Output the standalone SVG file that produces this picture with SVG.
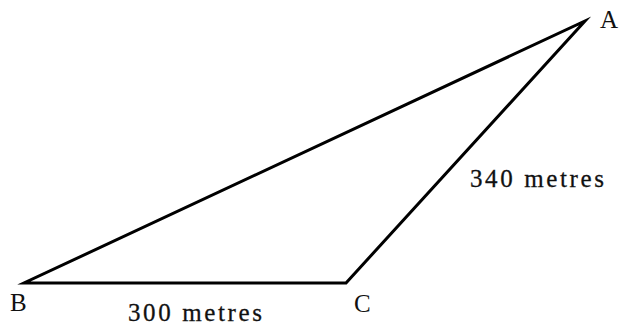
<svg xmlns="http://www.w3.org/2000/svg" width="620" height="329" viewBox="0 0 620 329">
<style>
.lbl{font-family:"Liberation Serif","Times New Roman",serif;font-size:25px;fill:#111}
.dim{font-family:"Liberation Serif","Times New Roman",serif;font-size:25px;fill:#111;stroke:#111;stroke-width:0.3}
.edge{stroke:#000;stroke-width:3;fill:none;stroke-linecap:round;stroke-linejoin:miter;stroke-miterlimit:20}
</style>
<rect width="620" height="329" fill="#fff"/>
<g id="connectors">
<polygon class="edge" points="24,283 346,283 585,21"/>
</g>
<g id="node-A"><text class="lbl" x="600" y="28">A</text></g>
<g id="node-B"><text class="lbl" x="10" y="311">B</text></g>
<g id="node-C"><text class="lbl" x="354" y="312">C</text></g>
<g id="label-AC"><text class="dim" x="470" y="187" textLength="134" lengthAdjust="spacing">340 metres</text></g>
<g id="label-BC"><text class="dim" x="128" y="321" textLength="134" lengthAdjust="spacing">300 metres</text></g>
</svg>
